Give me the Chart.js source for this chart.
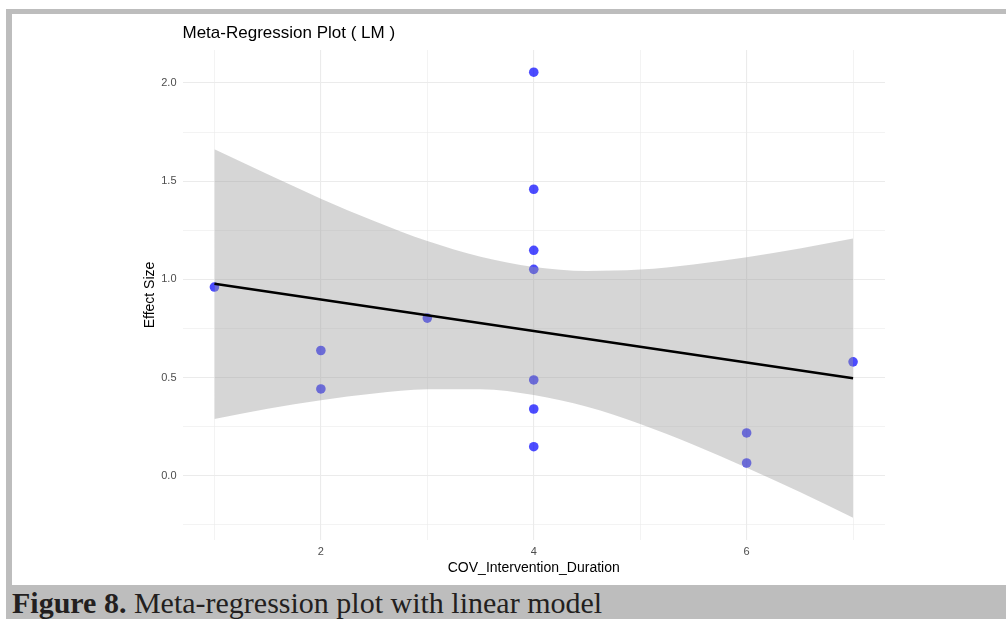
<!DOCTYPE html>
<html>
<head>
<meta charset="utf-8">
<script src="https://cdn.jsdelivr.net/npm/chart.js@4.4.1/dist/chart.umd.min.js"></script>
<style>
    body { margin: 0; background: #fff; }
    #wrap { position: relative; width: 1006px; height: 619px; overflow: hidden; }
    #myChart { position: absolute; left: 0; top: 0; }
    .frame { position: absolute; background: #bdbdbd; }
    #caption {
        position: absolute; left: 6px; top: 585px; width: 1000px; height: 34px;
        background: #bdbdbd; overflow: hidden;
    }
    #caption span {
        position: absolute; left: 6px; top: 3px; white-space: nowrap;
        font-family: "Liberation Serif", "Times New Roman", serif;
        font-size: 30px; line-height: 30px; color: #231f20;
    }
</style>
</head>
<body>
<div id="wrap">
    <canvas id="myChart" width="1006" height="619"></canvas>
    <div class="frame" style="left:6px; top:9px; width:1000px; height:5px;"></div>
    <div class="frame" style="left:6px; top:9px; width:6px; height:576px;"></div>
    <div id="caption"><span><b>Figure 8.</b> Meta-regression plot with linear model</span></div>
</div>
<script>
// studies: covariate (x) and effect size (y)
const duration = [1, 2, 2, 3, 4, 4, 4, 4, 4, 4, 4, 6, 6, 7];
const effectSize = [0.961, 0.638, 0.442, 0.803, 2.055, 1.459, 1.148, 1.051, 0.488, 0.34, 0.148, 0.218, 0.065, 0.58];

// fitted line end points
const fitX = [1, 7];
const fitY = [0.978, 0.497];

// confidence band
const bandX = [1, 1.5, 2, 2.5, 3, 3.5, 4, 4.5, 5, 5.5, 6, 6.5, 7];
const bandUpper = [1.663, 1.535, 1.411, 1.297, 1.195, 1.115, 1.063, 1.043, 1.05, 1.076, 1.113, 1.157, 1.208];
const bandLower = [0.289, 0.341, 0.385, 0.419, 0.441, 0.441, 0.411, 0.351, 0.264, 0.158, 0.041, -0.083, -0.214];

const toXY = (xs, ys) => xs.map((x, i) => ({ x: x, y: ys[i] }));

const isMajorY = (v) => Math.abs(v * 2 - Math.round(v * 2)) < 1e-6;
const isMajorX = (v) => v % 2 === 0;

const ctx = document.getElementById("myChart");

new Chart(ctx, {
    type: "scatter",
    data: {
        datasets: [
            {
                label: "studies",
                data: toXY(duration, effectSize),
                backgroundColor: "rgba(0, 0, 255, 0.7)",
                borderWidth: 0,
                pointRadius: 4.8,
                order: 3,
            },
            {
                label: "upper",
                type: "line",
                data: toXY(bandX, bandUpper),
                borderWidth: 0,
                pointRadius: 0,
                cubicInterpolationMode: "monotone",
                backgroundColor: "rgba(153, 153, 153, 0.4)",
                fill: "+1",
                order: 2,
            },
            {
                label: "lower",
                type: "line",
                data: toXY(bandX, bandLower),
                borderWidth: 0,
                pointRadius: 0,
                cubicInterpolationMode: "monotone",
                fill: false,
                order: 2,
            },
            {
                label: "fit",
                type: "line",
                data: toXY(fitX, fitY),
                borderColor: "#000000",
                borderWidth: 2.6,
                pointRadius: 0,
                fill: false,
                order: 1,
            },
        ],
    },
    options: {
        responsive: false,
        animation: false,
        devicePixelRatio: 1,
        layout: {
            padding: { left: 141.5, right: 121, top: 10, bottom: 42.6 },
        },
        plugins: {
            legend: { display: false },
            tooltip: { enabled: false },
            title: {
                display: true,
                text: "Meta-Regression Plot ( LM )",
                align: "start",
                fullSize: false,
                color: "#000000",
                font: { family: "Liberation Sans", size: 17, weight: "normal" },
                padding: { top: 12.8, bottom: 6.8 },
            },
        },
        scales: {
            x: {
                type: "linear",
                min: 0.7,
                max: 7.3,
                afterFit: (scale) => { scale.height = 36.4; },
                ticks: {
                    stepSize: 1,
                    includeBounds: false,
                    autoSkip: false,
                    maxRotation: 0,
                    padding: 5,
                    color: "#4d4d4d",
                    font: { family: "Liberation Sans", size: 11 },
                    callback: (v) => (isMajorX(v) ? String(v) : ""),
                },
                grid: {
                    drawTicks: false,
                    color: "#ebebeb",
                    lineWidth: (c) => (c.tick && isMajorX(c.tick.value) ? 1.1 : 0.6),
                },
                border: { display: false },
                title: {
                    display: true,
                    text: "COV_Intervention_Duration",
                    color: "#000000",
                    font: { family: "Liberation Sans", size: 14 },
                    padding: 0,
                },
            },
            y: {
                min: -0.327,
                max: 2.168,
                afterFit: (scale) => { scale.width = 41; },
                ticks: {
                    stepSize: 0.25,
                    includeBounds: false,
                    autoSkip: false,
                    padding: 6,
                    color: "#4d4d4d",
                    font: { family: "Liberation Sans", size: 11 },
                    callback: (v) => (isMajorY(v) ? v.toFixed(1) : ""),
                },
                grid: {
                    drawTicks: false,
                    color: "#ebebeb",
                    lineWidth: (c) => (c.tick && isMajorY(c.tick.value) ? 1.1 : 0.6),
                },
                border: { display: false },
                title: {
                    display: true,
                    text: "Effect Size",
                    color: "#000000",
                    font: { family: "Liberation Sans", size: 14 },
                    padding: 0,
                },
            },
        },
    },
});
</script>
</body>
</html>
